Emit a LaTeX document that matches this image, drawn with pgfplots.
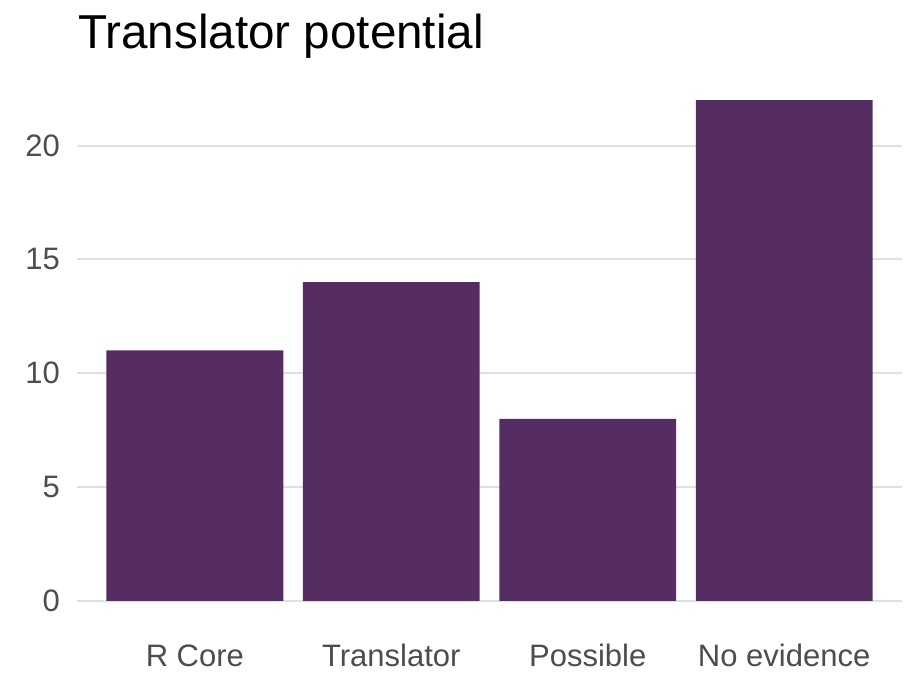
\documentclass[border=0pt]{standalone}
\usepackage{pgfplots}
\pgfplotsset{compat=1.18}
\usepackage{fontspec}
\setmainfont{Liberation Sans}
\definecolor{barcol}{HTML}{552D62}
\definecolor{gridcol}{HTML}{E0E0E0}
\definecolor{tickcol}{HTML}{4D4D4D}
\begin{document}
\begin{tikzpicture}[x=1pt,y=1pt]
\useasboundingbox (0,0) rectangle (912,672);
\begin{axis}[
  at={(77pt,46pt)}, anchor=south west,
  scale only axis, width=825pt, height=551pt,
  xmin=0.4, xmax=4.6, ymin=-1.1, ymax=23.1,
  xtick={1,2,3,4},
  xticklabels={R Core, Translator, Possible, No evidence},
  ytick={0,5,10,15,20},
  ymajorgrids, xmajorgrids=false,
  grid style={draw=gridcol, line width=2pt},
  axis line style={draw=none},
  major tick length=0pt,
  tick label style={font=\fontsize{31}{36}\selectfont, text=tickcol},
  /pgf/number format/assume math mode=true,
  yticklabel style={inner sep=0pt, anchor=east, xshift=-17pt},
  xticklabel style={inner sep=0pt, anchor=north, text height=22pt, text depth=0pt, yshift=-18pt},
  ybar, bar width=0.9, bar shift=0pt,
]
\addplot[fill=barcol, draw=none] coordinates {(1,11) (2,14) (3,8) (4,22)};
\end{axis}
\node[anchor=base west, inner sep=0pt, font=\fontsize{47.6}{54}\selectfont] at (78,623) {Translator potential};
\end{tikzpicture}
\end{document}
